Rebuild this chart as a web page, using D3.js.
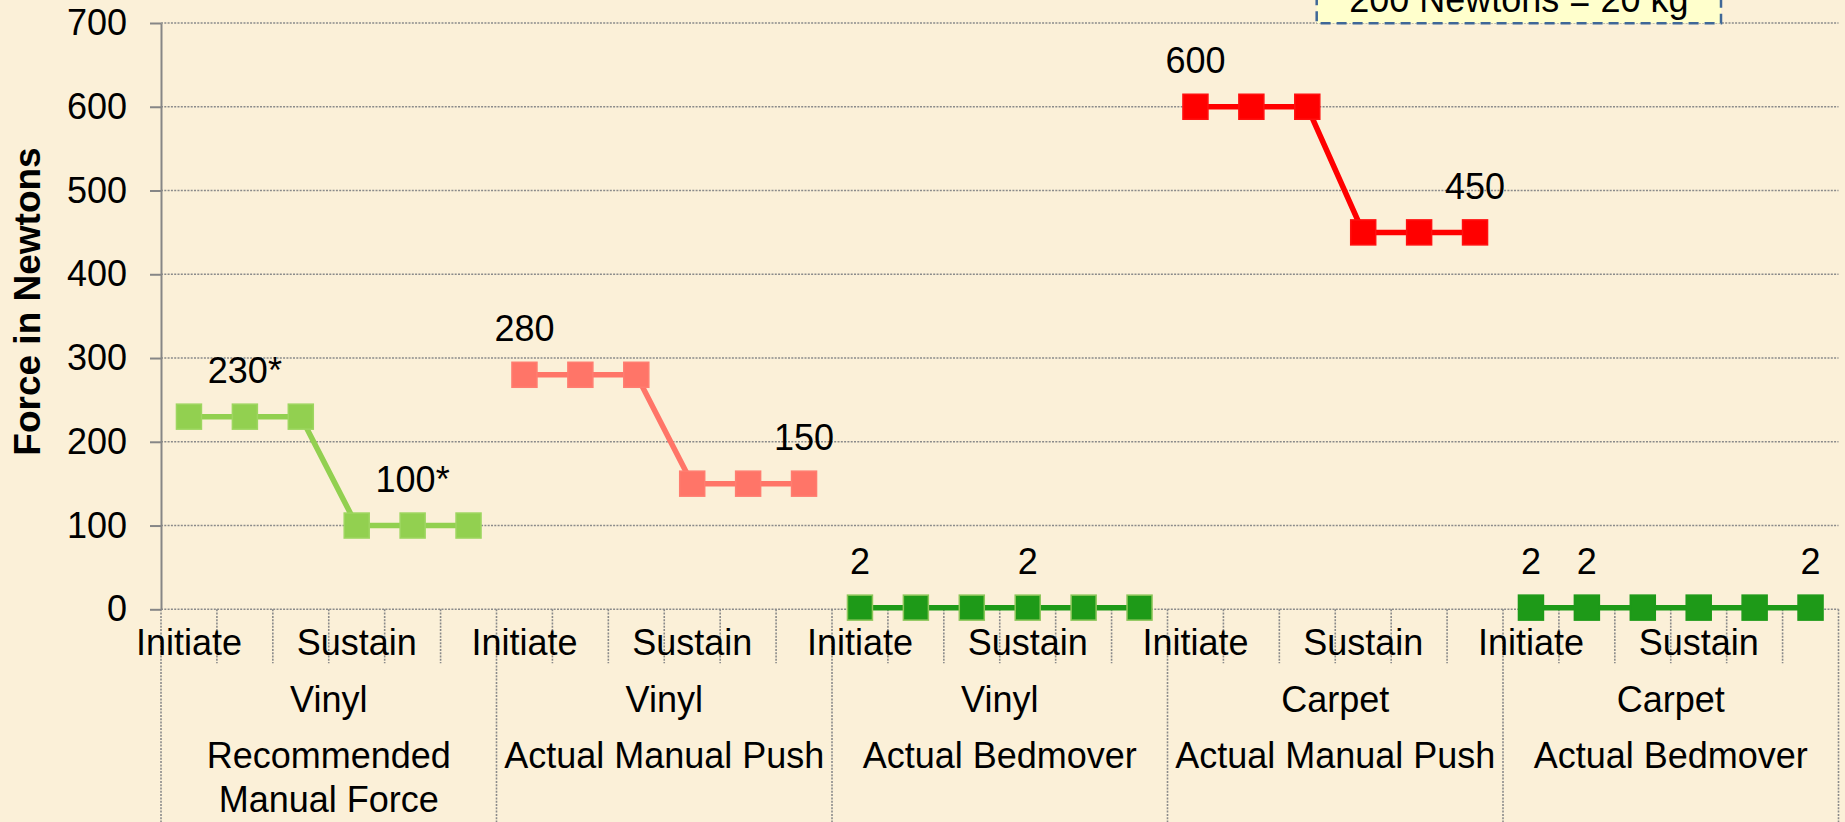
<!DOCTYPE html>
<html>
<head>
<meta charset="utf-8">
<script src="https://cdn.jsdelivr.net/npm/d3@7"></script>
<style>
  html, body { margin: 0; padding: 0; background: #fbf0d8; }
  svg { display: block; }
  text { font-family: "Liberation Sans", Arial, sans-serif; fill: #000; }
</style>
</head>
<body>
<div id="chart"></div>
<script>
// data
const phases = ['Initiate', '', '', 'Sustain', '', '']
const surfaces = ['Vinyl', 'Vinyl', 'Vinyl', 'Carpet', 'Carpet']
const methods = [
  ['Recommended', 'Manual Force'],
  ['Actual Manual Push'],
  ['Actual Bedmover'],
  ['Actual Manual Push'],
  ['Actual Bedmover']
]
const yTicks = [0, 100, 200, 300, 400, 500, 600, 700]

const recommended = [230, 230, 230, 100, 100, 100]
const vinylManual = [280, 280, 280, 150, 150, 150]
const vinylBedmover = [2, 2, 2, 2, 2, 2]
const carpetManual = [600, 600, 600, 450, 450, 450]
const carpetBedmover = [2, 2, 2, 2, 2, 2]

const recommendedLabels = ['', '230*', '', '', '100*', '']
const vinylManualLabels = ['280', '', '', '', '', '150']
const vinylBedmoverLabels = ['2', '', '', '2', '', '']
const carpetManualLabels = ['600', '', '', '', '', '450']
const carpetBedmoverLabels = ['2', '2', '', '', '', '2']

const note = '200 Newtons = 20 kg'
const yTitle = 'Force in Newtons'

const series = [
  {values: recommended, labels: recommendedLabels, color: '#92d050', edge: '#9ed660'},
  {values: vinylManual, labels: vinylManualLabels, color: '#ff7568', edge: '#ff7d70'},
  {values: vinylBedmover, labels: vinylBedmoverLabels, color: '#1e9a18', edge: '#8cc65a'},
  {values: carpetManual, labels: carpetManualLabels, color: '#ff0000', edge: '#ff1010'},
  {values: carpetBedmover, labels: carpetBedmoverLabels, color: '#1e9a18', edge: '#1e9a18'}
]

const W = 1845
const H = 822
const plotLeft = 161
const plotRight = 1838.5
const plotTop = 23
const plotBottom = 609.3
const fs = 36

const cats = d3.range(surfaces.length * phases.length)

const x = d3.scaleBand().domain(cats).range([plotLeft, plotRight]).padding(0)
const y = d3.scaleLinear().domain([0, 700]).range([plotBottom, plotTop])

const svg = d3.select('#chart')
  .append('svg')
  .attr('width', W)
  .attr('height', H)

svg.append('rect')
  .attr('width', W)
  .attr('height', H)
  .attr('fill', '#fbf0d8')

const dotted = sel => sel
  .attr('stroke', '#8a8a8a')
  .attr('stroke-width', 1.6)
  .attr('stroke-dasharray', '2,1.3')

// horizontal grid
svg.append('g').selectAll('line')
  .data(yTicks)
  .enter()
  .append('line')
  .attr('x1', plotLeft)
  .attr('x2', plotRight)
  .attr('y1', d => y(d))
  .attr('y2', d => y(d))
  .call(dotted)

// category tick lines and group dividers
const edges = d3.range(cats.length + 1)
svg.append('g').selectAll('line')
  .data(edges)
  .enter()
  .append('line')
  .attr('x1', d => d < cats.length ? x(d) : plotRight)
  .attr('x2', d => d < cats.length ? x(d) : plotRight)
  .attr('y1', plotBottom)
  .attr('y2', d => d % phases.length === 0 ? H : plotBottom + 54)
  .call(dotted)

// y axis
const yAxis = svg.append('g')
  .attr('transform', `translate(${plotLeft},0)`)
  .call(d3.axisLeft(y).tickValues(yTicks).tickSize(11).tickSizeOuter(0).tickPadding(23))
yAxis.select('.domain').attr('stroke', '#868686').attr('stroke-width', 2)
yAxis.selectAll('.tick line').attr('stroke', '#868686').attr('stroke-width', 2)
yAxis.selectAll('.tick text')
  .attr('font-size', fs)
  .attr('font-family', '"Liberation Sans", Arial, sans-serif')
  .attr('fill', '#000')

svg.append('text')
  .attr('transform', `translate(40,${301.5}) rotate(-90)`)
  .attr('text-anchor', 'middle')
  .attr('font-size', 37)
  .attr('font-weight', 'bold')
  .text(yTitle)

// x axis, phase level
const xAxis = svg.append('g')
  .attr('transform', `translate(0,${plotBottom})`)
  .call(d3.axisBottom(x).tickSize(0).tickPadding(20).tickFormat(i => phases[i % phases.length]))
xAxis.select('.domain').remove()
xAxis.selectAll('.tick text')
  .attr('font-size', fs)
  .attr('font-family', '"Liberation Sans", Arial, sans-serif')
  .attr('fill', '#000')

// surface and method levels
const groupCenter = g => x(g * phases.length) + x.bandwidth() * phases.length / 2
svg.append('g').selectAll('text')
  .data(surfaces)
  .enter()
  .append('text')
  .attr('x', (d, i) => groupCenter(i))
  .attr('y', 711.7)
  .attr('text-anchor', 'middle')
  .attr('font-size', fs)
  .text(d => d)

const methodText = svg.append('g').selectAll('text')
  .data(methods)
  .enter()
  .append('text')
  .attr('x', (d, i) => groupCenter(i))
  .attr('y', 768.3)
  .attr('text-anchor', 'middle')
  .attr('font-size', fs)
methodText.selectAll('tspan')
  .data((d, i) => d.map(t => ({t, i})))
  .enter()
  .append('tspan')
  .attr('x', d => groupCenter(d.i))
  .attr('dy', (d, j) => j === 0 ? 0 : 43.4)
  .text(d => d.t)

// series
const line = d3.line()
  .x(d => x(d.c) + x.bandwidth() / 2)
  .y(d => y(d.v))

series.forEach((s, g) => {
  const pts = s.values.map((v, j) => ({v, c: g * phases.length + j, label: s.labels[j]}))
  const sg = svg.append('g')

  sg.append('path')
    .datum(pts)
    .attr('d', line)
    .attr('fill', 'none')
    .attr('stroke', s.color)
    .attr('stroke-width', 5.5)

  sg.selectAll('rect')
    .data(pts)
    .enter()
    .append('rect')
    .attr('x', d => x(d.c) + x.bandwidth() / 2 - 12.5)
    .attr('y', d => y(d.v) - 12.5)
    .attr('width', 25)
    .attr('height', 25)
    .attr('fill', s.color)
    .attr('stroke', s.edge)
    .attr('stroke-width', 1.5)

  sg.selectAll('text')
    .data(pts.filter(d => d.label))
    .enter()
    .append('text')
    .attr('x', d => x(d.c) + x.bandwidth() / 2)
    .attr('y', d => y(d.v) - 33.5)
    .attr('text-anchor', 'middle')
    .attr('font-size', fs)
    .text(d => d.label)
})

// note box at the top right
svg.append('rect')
  .attr('x', 1316.7)
  .attr('y', -30)
  .attr('width', 1721 - 1316.7)
  .attr('height', 30 + 23.3)
  .attr('fill', '#ffffcc')
  .attr('stroke', '#3f6797')
  .attr('stroke-width', 2.5)
  .attr('stroke-dasharray', '10,6')

svg.append('text')
  .attr('x', (1316.7 + 1721) / 2)
  .attr('y', 12)
  .attr('text-anchor', 'middle')
  .attr('font-size', fs)
  .text(note)
</script>
</body>
</html>
